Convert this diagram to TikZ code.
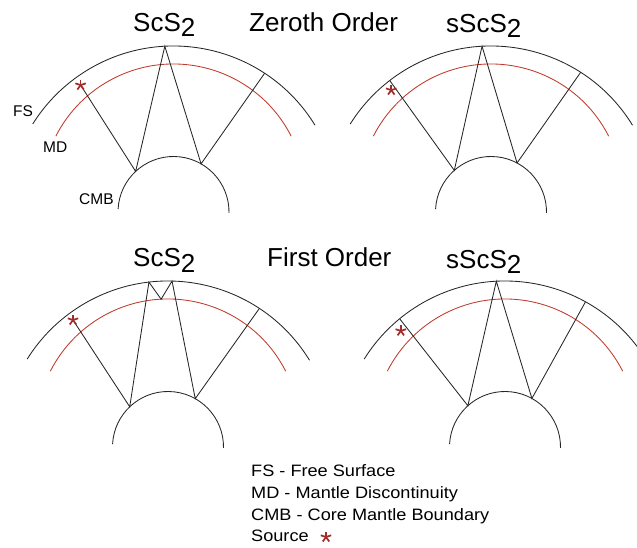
\documentclass[tikz,border=0pt]{standalone}
\usepackage{fontspec}
\setmainfont{Liberation Sans}
\newfontfamily\legendfont[FakeStretch=1.1]{Liberation Sans}
\definecolor{mdred}{HTML}{C0392B}
\definecolor{srcred}{HTML}{A02C2C}

\tikzset{
  fsline/.style={line width=0.85pt, black!85},
  mdline/.style={line width=0.85pt, mdred},
  cmbline/.style={line width=0.85pt, black!85},
  ray/.style={line width=0.85pt, black!85, line join=miter},
  title/.style={font=\fontsize{26}{26}\selectfont, anchor=base west, inner sep=0pt},
  lbl/.style={font=\fontsize{15.5}{16}\selectfont, anchor=base west, inner sep=0pt},
  legend/.style={font=\legendfont\fontsize{16.5}{17}\selectfont, anchor=base west, inner sep=0pt},
  srcstar/.pic={\foreach \a in {90,162,234,306,378}
      \draw[srcred, line width=1.7pt] (0,0) -- (\a:5.5pt);},
}

% free surface, mantle discontinuity and core-mantle boundary of one section
\newcommand{\drawshells}{%
  \draw[fsline] (31.5:166pt) arc[start angle=31.5, end angle=148, radius=166pt];
  \draw[mdline, shift={(0,16pt)}] (27:132pt) arc[start angle=27, end angle=153, radius=132pt];
  \draw[cmbline] (-1:55.5pt) arc[start angle=-1, end angle=177, radius=55.5pt];
}

\begin{document}
\begin{tikzpicture}[x=1pt, y=1pt]
\useasboundingbox (0,0) rectangle (637,547);
\clip (0,0) rectangle (637,547);

% ---- zeroth order, ScS2
\begin{scope}[shift={(173.5,335)}]
  \drawshells
  \coordinate (p1s)  at (126.2:157.3pt);
  \coordinate (p1c1) at (133:55.5pt);
  \coordinate (p1f1) at (93:166pt);
  \coordinate (p1c2) at (60.2:55.5pt);
  \coordinate (p1f2) at (56.7:166pt);
  \draw[ray] (p1s) -- (p1c1) -- (p1f1) -- (p1c2) -- (p1f2);
  \pic at (p1s) {srcstar};
\end{scope}

% ---- zeroth order, sScS2
\begin{scope}[shift={(491,335)}]
  \drawshells
  \coordinate (p2f0) at (127.6:166pt);
  \coordinate (p2s)  at (129.3:157.5pt);
  \coordinate (p2c1) at (131.4:55.5pt);
  \coordinate (p2f1) at (93.1:166pt);
  \coordinate (p2c2) at (62:55.5pt);
  \coordinate (p2f2) at (57.3:166pt);
  \draw[ray] (p2f0) -- (p2c1) -- (p2f1) -- (p2c2) -- (p2f2);
  \pic at (p2s) {srcstar};
\end{scope}

% ---- first order, ScS2 with underside reflection at the discontinuity
\begin{scope}[shift={(168,100)}]
  \drawshells
  \coordinate (p3s)  at (126.8:158.6pt);
  \coordinate (p3c1) at (133.6:55.5pt);
  \coordinate (p3f1) at (96.6:166pt);
  \coordinate (p3m)  at (-6.9,147.8);
  \coordinate (p3f2) at (88.6:166pt);
  \coordinate (p3c2) at (60.6:55.5pt);
  \coordinate (p3f3) at (56.6:166pt);
  \draw[ray] (p3s) -- (p3c1) -- (p3f1) -- (p3m) -- (p3f2) -- (p3c2) -- (p3f3);
  \pic at (p3s) {srcstar};
\end{scope}

% ---- first order, sScS2
\begin{scope}[shift={(505,100)}]
  \drawshells
  \coordinate (p4f0) at (129.4:166pt);
  \coordinate (p4s)  at (131.9:156pt);
  \coordinate (p4c1) at (132:55.5pt);
  \coordinate (p4f1) at (93:166pt);
  \coordinate (p4c2) at (61:55.5pt);
  \coordinate (p4f2) at (61:166pt);
  \draw[ray] (p4f0) -- (p4c1) -- (p4f1) -- (p4c2) -- (p4f2);
  \pic at (p4s) {srcstar};
\end{scope}

% titles
\node[title] (t1) at (133,515) {ScS\raisebox{-5pt}{2}};
\node[title] (t0) at (249,515) {Zeroth Order};
\node[title] (t2) at (446,514) {sScS\raisebox{-5pt}{2}};
\node[title] (t3) at (133,280) {ScS\raisebox{-5pt}{2}};
\node[title] (t5) at (267,280) {First Order};
\node[title] (t4) at (446,279) {sScS\raisebox{-5pt}{2}};

% layer labels
\node[lbl] (lfs)  at (13,430) {FS};
\node[lbl] (lmd)  at (43,394) {MD};
\node[lbl] (lcmb) at (79,342) {CMB};

% legend
\node[legend] (k1) at (251,70.3) {FS - Free Surface};
\node[legend] (k2) at (251,48.6) {MD - Mantle Discontinuity};
\node[legend] (k3) at (251,26.6) {CMB - Core Mantle Boundary};
\node[legend] (k4) at (251,5.3)  {Source};
\coordinate (kstar) at (326,10);
\pic at (kstar) {srcstar};
\end{tikzpicture}
\end{document}
